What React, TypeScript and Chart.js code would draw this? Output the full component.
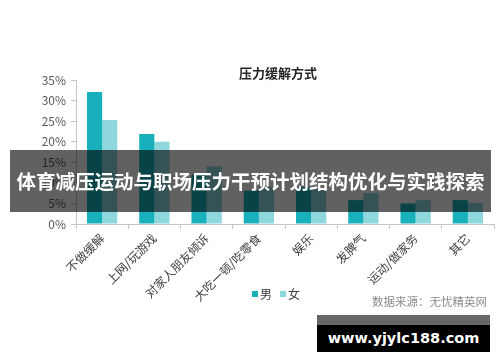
import React, { useEffect, useRef } from 'react';
import { Chart, registerables } from 'chart.js';

Chart.register(...registerables);

const categories = ['不做缓解', '上网/玩游戏', '对家人朋友倾诉', '大吃一顿/吃零食', '娱乐', '发脾气', '运动/做家务', '其它'];
const maleValues = [32.1, 21.9, 12, 8.1, 9, 5.8, 5, 5.8];
const femaleValues = [25.3, 20, 14, 9, 8.5, 7.5, 5.8, 5.1];
const yTicks = [0, 5, 10, 15, 20, 25, 30, 35];
const seriesNames = ['男', '女'];
const seriesColors = ['#17b0bb', '#8dd7dd'];
const chartTitle = '压力缓解方式';
const sourceText = '数据来源：无忧精英网';
const bannerText = '体育减压运动与职场压力干预计划结构优化与实践探索';
const watermarkText = 'www.yjylc188.com';

const FONT = '"Microsoft YaHei", "Noto Sans CJK SC", sans-serif';

export default function App() {
  const ref = useRef<HTMLCanvasElement>(null);

  useEffect(() => {
    const chart = new Chart(ref.current as HTMLCanvasElement, {
      type: 'bar',
      data: {
        labels: categories,
        datasets: [
          { label: seriesNames[0], data: maleValues, backgroundColor: seriesColors[0], categoryPercentage: 0.58, barPercentage: 1 },
          { label: seriesNames[1], data: femaleValues, backgroundColor: seriesColors[1], categoryPercentage: 0.58, barPercentage: 1 },
        ],
      },
      options: {
        responsive: false,
        animation: false,
        events: [],
        layout: { padding: { top: 80, left: 0, right: 6, bottom: 0 } },
        plugins: {
          legend: { display: false },
          title: { display: false },
          tooltip: { enabled: false },
        },
        scales: {
          x: {
            grid: { display: true, drawOnChartArea: false, tickLength: 5, color: '#c6c6c6' },
            border: { color: '#c6c6c6' },
            ticks: {
              minRotation: 45,
              maxRotation: 45,
              autoSkip: false,
              padding: 2,
              color: '#404040',
              font: { size: 12, family: FONT },
            },
            afterFit: (s: any) => {
              s.height = 138;
            },
          },
          y: {
            min: yTicks[0],
            max: yTicks[yTicks.length - 1],
            grid: { display: true, drawOnChartArea: false, tickLength: 5, color: '#c6c6c6' },
            border: { color: '#c6c6c6' },
            afterBuildTicks: (s: any) => {
              s.ticks = yTicks.map((v) => ({ value: v }));
            },
            ticks: {
              padding: 5,
              color: '#595959',
              font: { size: 12, family: FONT },
              callback: (v: any) => v + '%',
            },
            afterFit: (s: any) => {
              s.width = 76;
            },
          },
        },
      },
    });
    return () => chart.destroy();
  }, []);

  return (
    <div style={{ position: 'absolute', left: 0, top: 0, width: 500, height: 362, background: '#fff', overflow: 'hidden', fontFamily: FONT }}>
      <canvas ref={ref} width={500} height={362} style={{ display: 'block', position: 'absolute', left: 0, top: 0 }} />
      <div style={{ position: 'absolute', left: 178, top: 64, width: 200, textAlign: 'center', fontSize: 13, lineHeight: '17px', fontWeight: 'bold', color: '#262626' }}>{chartTitle}</div>
      <div style={{ position: 'absolute', left: 252, top: 286, display: 'flex', alignItems: 'center', fontSize: 12, lineHeight: '16px', color: '#404040' }}>
        {seriesNames.map((n, i) => (
          <span key={n} style={{ display: 'flex', alignItems: 'center', marginRight: 8 }}>
            <span style={{ display: 'inline-block', width: 6, height: 6, background: seriesColors[i], marginRight: 2 }} />
            {n}
          </span>
        ))}
      </div>
      <div style={{ position: 'absolute', left: 372, top: 293, fontSize: 11.5, lineHeight: '16px', color: '#8c8c8c', whiteSpace: 'nowrap' }}>{sourceText}</div>
      <div style={{ position: 'absolute', left: 10, top: 150, width: 481, height: 62, background: 'rgba(0,0,0,0.62)', color: '#fff', fontWeight: 'bold', fontSize: 19.5, lineHeight: '62px', textAlign: 'center', whiteSpace: 'nowrap' }}>{bannerText}</div>
      <div style={{ position: 'absolute', left: 317, top: 315, width: 173, height: 10, background: '#666' }} />
      <div style={{ position: 'absolute', left: 317, top: 325, width: 173, height: 27, background: '#000', color: '#fff', fontWeight: 'bold', fontSize: 14.5, lineHeight: '27px', textAlign: 'center', fontFamily: '"DejaVu Sans", sans-serif', whiteSpace: 'nowrap' }}>{watermarkText}</div>
    </div>
  );
}
